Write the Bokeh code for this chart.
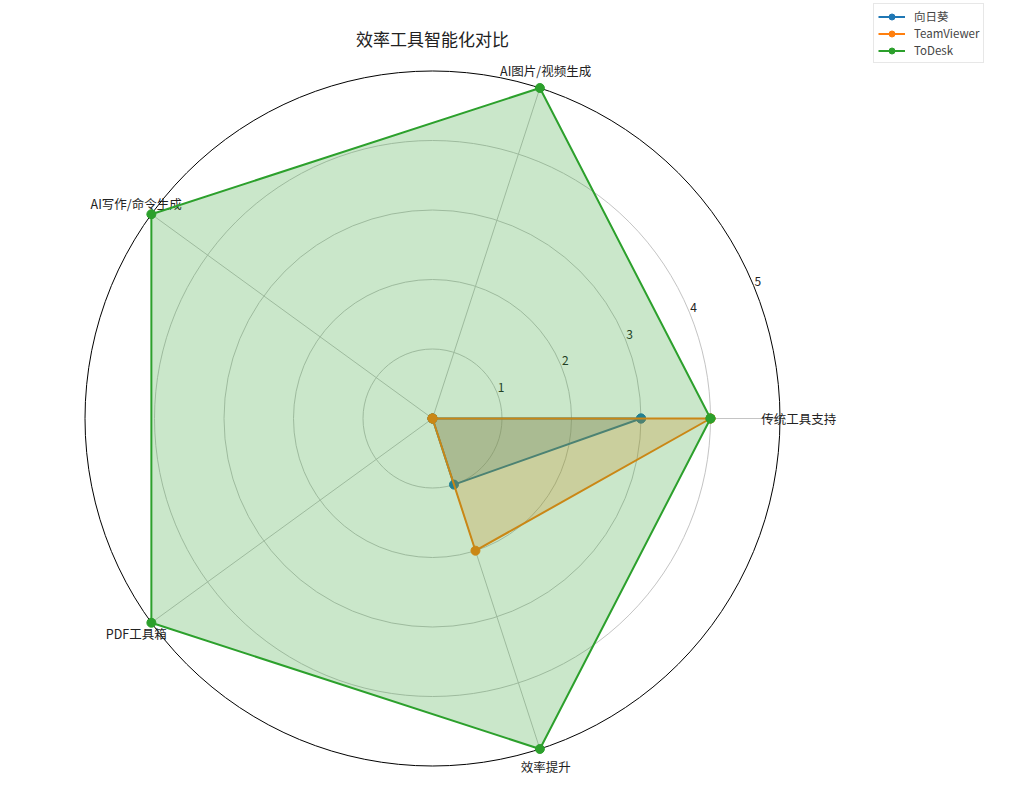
import numpy as np
from bokeh.plotting import figure
from bokeh.models import Range1d, Label, Legend, LegendItem, ColumnDataSource
from bokeh.core.properties import value
from bokeh.embed import file_html
from bokeh.resources import INLINE

# data
categories = ["传统工具支持", "AI图片/视频生成", "AI写作/命令生成", "PDF工具箱", "效率提升"]
series_names = ["向日葵", "TeamViewer", "ToDesk"]
sunflower = [3, 0, 0, 0, 1]
teamviewer = [4, 0, 0, 0, 2]
todesk = [4, 5, 5, 5, 5]
r_ticks = [1, 2, 3, 4, 5]
colors = ["#1f77b4", "#ff7f0e", "#2ca02c"]

FONT = "Noto Sans CJK SC"
W, H = 1000, 775
cx, cy = 432, 418          # centre in canvas px
scale = 69.5               # px per unit
R = 5

p = figure(width=W, height=H, output_backend="svg", toolbar_location=None,
           x_range=Range1d(-cx / scale, (W - cx) / scale),
           y_range=Range1d(-(H - cy) / scale, cy / scale),
           min_border=0, outline_line_color=None)
p.axis.visible = False
p.grid.visible = False
p.background_fill_color = "white"
p.border_fill_color = "white"

n = len(categories)
angles = np.arange(n) * 2 * np.pi / n

# grid circles and spokes
for r in r_ticks[:-1]:
    p.circle(x=0, y=0, radius=r, fill_color=None, line_color="#c4c4c4", line_width=1)
p.circle(x=0, y=0, radius=R, fill_color=None, line_color="black", line_width=1)
for a in angles:
    p.line([0, R * np.cos(a)], [0, R * np.sin(a)], line_color="#c4c4c4", line_width=1)

# radial tick labels
ta = np.deg2rad(22.5)
p.text(x=[r * np.cos(ta) for r in r_ticks], y=[r * np.sin(ta) for r in r_ticks],
       text=[str(r) for r in r_ticks], text_font=value(FONT), text_font_size="12px",
       text_align="left", text_baseline="bottom", text_color="#222222",
       x_offset=1, y_offset=0)

# category labels
lr = 5.27
p.text(x=list(lr * np.cos(angles)), y=list(lr * np.sin(angles)), text=categories,
       text_font=value(FONT), text_font_size="12.5px", text_align="center",
       text_baseline="middle", text_color="#222222")

# series
items = []
for name, vals, col in zip(series_names, [sunflower, teamviewer, todesk], colors):
    v = np.array(vals, dtype=float)
    xs = list(v * np.cos(angles)) + [v[0] * np.cos(angles[0])]
    ys = list(v * np.sin(angles)) + [v[0] * np.sin(angles[0])]
    src = ColumnDataSource(dict(x=xs, y=ys))
    p.patch(xs, ys, fill_color=col, fill_alpha=0.25, line_color=None)
    ln = p.line("x", "y", source=src, line_color=col, line_width=2)
    sc = p.scatter("x", "y", source=src, size=9, fill_color=col, line_color=col)
    items.append(LegendItem(label=name, renderers=[ln, sc]))

legend = Legend(items=items, location=(873, H - 58 - 5), label_text_font=FONT,
                label_text_font_size="11.5px", glyph_width=27, glyph_height=15,
                label_height=15, spacing=1, padding=4, margin=0, label_standoff=9,
                border_line_color="#d0d0d0", border_line_width=1,
                background_fill_alpha=1.0)
p.add_layout(legend)

p.add_layout(Label(x=cx, y=H - 38, x_units="screen", y_units="screen",
                   text="效率工具智能化对比", text_font=FONT, text_font_size="17px",
                   text_align="center", text_baseline="middle", text_color="#222222"))

open("out.html", "w").write(file_html(p, INLINE))
